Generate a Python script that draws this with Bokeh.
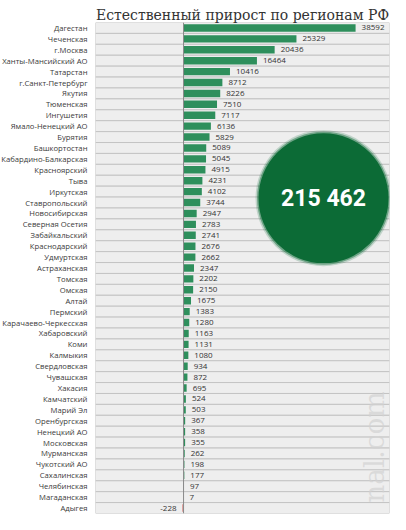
import math
from bokeh.plotting import figure
from bokeh.layouts import row
from bokeh.models import ColumnDataSource, Range1d, Span
from bokeh.embed import file_html
from bokeh.resources import INLINE
from bokeh.core.properties import value

title_text = "Естественный прирост по регионам РФ"
total_text = "215 462"
watermark_text = "nal.com"

regions = [
    "Дагестан", "Чеченская", "г.Москва", "Ханты-Мансийский АО", "Татарстан",
    "г.Санкт-Петербург", "Якутия", "Тюменская", "Ингушетия", "Ямало-Ненецкий АО",
    "Бурятия", "Башкортостан", "Кабардино-Балкарская", "Красноярский", "Тыва",
    "Иркутская", "Ставропольский", "Новосибирская", "Северная Осетия", "Забайкальский",
    "Краснодарский", "Удмуртская", "Астраханская", "Томская", "Омская",
    "Алтай", "Пермский", "Карачаево-Черкесская", "Хабаровский", "Коми",
    "Калмыкия", "Свердловская", "Чувашская", "Хакасия", "Камчатский",
    "Марий Эл", "Оренбургская", "Ненецкий АО", "Московская", "Мурманская",
    "Чукотский АО", "Сахалинская", "Челябинская", "Магаданская", "Адыгея",
]
growth = [
    38592, 25329, 20436, 16464, 10416,
    8712, 8226, 7510, 7117, 6136,
    5829, 5089, 5045, 4915, 4231,
    4102, 3744, 2947, 2783, 2741,
    2676, 2662, 2347, 2202, 2150,
    1675, 1383, 1280, 1163, 1131,
    1080, 934, 872, 695, 524,
    503, 367, 358, 355, 262,
    198, 177, 97, 7, -228,
]

n = len(regions)
XMIN, XMAX = -19750, 46200
LABEL_W = 95
TOTAL_W, TOTAL_H = 390, 514
TOP, BOTTOM = 22, 1

LABEL_FONT = value("Open Sans")

src = ColumnDataSource(dict(
    y=list(range(n)),
    name=regions,
    v=growth,
    color=["#2e8f5c" if v >= 0 else "#d0504a" for v in growth],
    left=[XMIN] * n,
    right=[XMAX] * n,
    lx=[1] * n,
))
pos = [(i, v) for i, v in enumerate(growth) if v >= 0]
neg = [(i, v) for i, v in enumerate(growth) if v < 0]
src_pos = ColumnDataSource(dict(y=[i for i, _ in pos], v=[v for _, v in pos], lab=[str(v) for _, v in pos]))
src_neg = ColumnDataSource(dict(y=[i for i, _ in neg], v=[v for _, v in neg], lab=[str(v) for _, v in neg]))

yr = Range1d(n - 0.5, -0.5)

# label column
pl = figure(width=LABEL_W, height=TOTAL_H, x_range=Range1d(0, 1), y_range=yr,
            toolbar_location=None, output_backend="svg",
            min_border_left=0, min_border_right=0, min_border_top=TOP, min_border_bottom=BOTTOM)
pl.axis.visible = False
pl.grid.visible = False
pl.outline_line_color = None
pl.text(x="lx", y="y", text="name", x_offset=-8, text_align="right", text_baseline="middle",
        text_font=LABEL_FONT, text_font_size="7.7px", text_color="#3a3a3a", source=src)

# main chart
p = figure(width=TOTAL_W - LABEL_W, height=TOTAL_H, x_range=Range1d(XMIN, XMAX), y_range=yr,
           toolbar_location=None, output_backend="svg",
           min_border_left=0, min_border_right=1, min_border_top=TOP, min_border_bottom=BOTTOM)
p.axis.visible = False
p.grid.visible = False
p.outline_line_color = None

p.title.text = title_text
p.title.align = "center"
p.title.text_font = "DejaVu Serif"
p.title.text_font_size = "14px"
p.title.text_font_style = "normal"
p.title.text_color = "#333333"
p.title.standoff = 0

# row stripes
p.hbar(y="y", left="left", right="right", height=1, fill_color="#eeeeee",
       line_color="#c4c4c4", line_width=1, source=src)

# bars
p.hbar(y="y", left=0, right="v", height=0.68, fill_color="color", line_color=None, source=src)

p.add_layout(Span(location=0, dimension="height", line_color="#8a8a8a", line_width=1))

# value labels
p.text(x="v", y="y", text="lab", x_offset=6, text_align="left", text_baseline="middle",
       text_font=LABEL_FONT, text_font_size="8px", text_color="#333333", source=src_pos)
p.text(x="v", y="y", text="lab", x_offset=-6, text_align="right", text_baseline="middle",
       text_font=LABEL_FONT, text_font_size="8px", text_color="#333333", source=src_neg)

# total badge
cx, cy = 31400, 15.6
p.scatter([cx], [cy], marker="circle", size=136, fill_color="#0c6b36", fill_alpha=0.2, line_color=None)
p.scatter([cx], [cy], marker="circle", size=133, fill_color="#0c6b36", fill_alpha=0.45, line_color=None)
p.scatter([cx], [cy], marker="circle", size=130, fill_color="#0c6b36", line_color=None)
p.text(x=[cx], y=[cy], text=[total_text], text_align="center", text_baseline="middle",
       text_font=value("Roboto"), text_font_style="bold",
       text_font_size="23px", text_color="white")

# watermark
p.text(x=[42800], y=[38.4], text=[watermark_text], angle=math.pi / 2,
       text_align="center", text_baseline="middle", text_font=value("DejaVu Serif"),
       text_font_size="28px", text_color="#d2d2d2", text_alpha=0.7)

layout = row(pl, p)
open("out.html", "w").write(file_html(layout, INLINE))
